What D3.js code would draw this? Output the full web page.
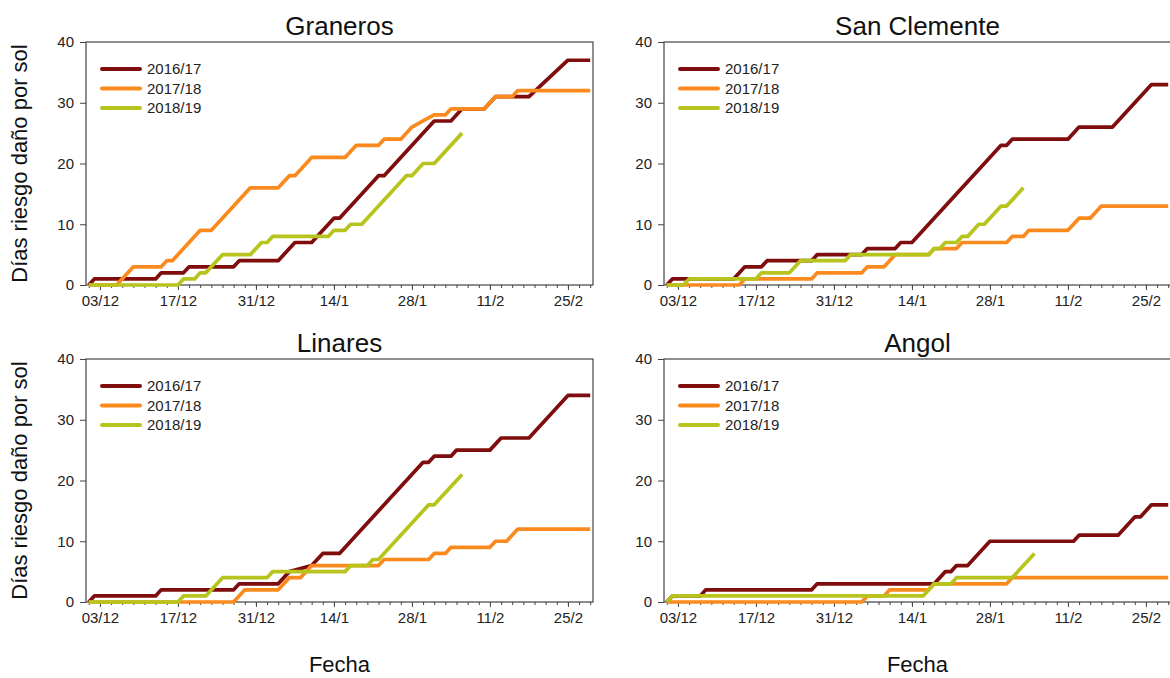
<!DOCTYPE html>
<html>
<head>
<meta charset="utf-8">
<script src="https://cdn.jsdelivr.net/npm/d3@7"></script>
<style>
  body { margin: 0; background: #fff; }
  svg { display: block; font-family: Arial, "Liberation Sans", sans-serif; }
</style>
</head>
<body>
<svg id="mainSvg" width="1170" height="678"></svg>
<script>
// stations and seasons
var stations = ["Graneros", "San Clemente", "Linares", "Angol"];
var seasons = ["2016/17", "2017/18", "2018/19"];
var seasonColors = ["#7f0d0d", "#fb8a1e", "#b7c41d"];

var xTickLabels = ["03/12", "17/12", "31/12", "14/1", "28/1", "11/2", "25/2"];
var yTicks = [0, 10, 20, 30, 40];

// cumulative days at risk, [dd/mm, value] read at the corners of each line
var graneros1617 = [["01/12",0],["02/12",1],["13/12",1],["14/12",2],["18/12",2],["19/12",3],["27/12",3],["28/12",4],["04/01",4],["07/01",7],["10/01",7],["14/01",11],["15/01",11],["22/01",18],["23/01",18],["01/02",27],["04/02",27],["06/02",29],["10/02",29],["12/02",31],["18/02",31],["25/02",37],["01/03",37]];
var graneros1718 = [["01/12",0],["06/12",0],["09/12",3],["14/12",3],["15/12",4],["16/12",4],["21/12",9],["23/12",9],["30/12",16],["04/01",16],["06/01",18],["07/01",18],["10/01",21],["16/01",21],["18/01",23],["22/01",23],["23/01",24],["26/01",24],["28/01",26],["30/01",27],["01/02",28],["03/02",28],["04/02",29],["10/02",29],["12/02",31],["15/02",31],["16/02",32],["01/03",32]];
var graneros1819 = [["01/12",0],["17/12",0],["18/12",1],["20/12",1],["21/12",2],["22/12",2],["25/12",5],["30/12",5],["01/01",7],["02/01",7],["03/01",8],["13/01",8],["14/01",9],["16/01",9],["17/01",10],["19/01",10],["27/01",18],["28/01",18],["30/01",20],["01/02",20],["06/02",25]];

var sanClemente1617 = [["01/12",0],["02/12",1],["13/12",1],["15/12",3],["18/12",3],["19/12",4],["27/12",4],["28/12",5],["05/01",5],["06/01",6],["11/01",6],["12/01",7],["14/01",7],["30/01",23],["31/01",23],["01/02",24],["11/02",24],["13/02",26],["19/02",26],["26/02",33],["01/03",33]];
var sanClemente1718 = [["01/12",0],["14/12",0],["15/12",1],["27/12",1],["28/12",2],["05/01",2],["06/01",3],["09/01",3],["11/01",5],["17/01",5],["18/01",6],["22/01",6],["23/01",7],["31/01",7],["01/02",8],["03/02",8],["04/02",9],["11/02",9],["13/02",11],["15/02",11],["17/02",13],["01/03",13]];
var sanClemente1819 = [["01/12",0],["04/12",0],["05/12",1],["17/12",1],["18/12",2],["23/12",2],["25/12",4],["02/01",4],["03/01",5],["17/01",5],["18/01",6],["19/01",6],["20/01",7],["22/01",7],["23/01",8],["24/01",8],["26/01",10],["27/01",10],["30/01",13],["31/01",13],["03/02",16]];

var linares1617 = [["01/12",0],["02/12",1],["13/12",1],["14/12",2],["27/12",2],["28/12",3],["04/01",3],["06/01",5],["10/01",6],["12/01",8],["15/01",8],["30/01",23],["31/01",23],["01/02",24],["04/02",24],["05/02",25],["11/02",25],["13/02",27],["18/02",27],["25/02",34],["01/03",34]];
var linares1718 = [["01/12",0],["27/12",0],["29/12",2],["04/01",2],["06/01",4],["08/01",4],["10/01",6],["22/01",6],["23/01",7],["31/01",7],["01/02",8],["03/02",8],["04/02",9],["11/02",9],["12/02",10],["14/02",10],["16/02",12],["01/03",12]];
var linares1819 = [["01/12",0],["17/12",0],["18/12",1],["22/12",1],["25/12",4],["02/01",4],["03/01",5],["16/01",5],["17/01",6],["20/01",6],["21/01",7],["22/01",7],["31/01",16],["01/02",16],["06/02",21]];

var angol1617 = [["01/12",0],["02/12",1],["07/12",1],["08/12",2],["27/12",2],["28/12",3],["18/01",3],["20/01",5],["21/01",5],["22/01",6],["24/01",6],["28/01",10],["12/02",10],["13/02",11],["20/02",11],["23/02",14],["24/02",14],["26/02",16],["01/03",16]];
var angol1718 = [["01/12",0],["05/01",0],["06/01",1],["09/01",1],["10/01",2],["17/01",2],["18/01",3],["31/01",3],["01/02",4],["01/03",4]];
var angol1819 = [["01/12",0],["02/12",1],["16/01",1],["18/01",3],["21/01",3],["22/01",4],["01/02",4],["05/02",8]];

var stationSeries = [
    [graneros1617, graneros1718, graneros1819],
    [sanClemente1617, sanClemente1718, sanClemente1819],
    [linares1617, linares1718, linares1819],
    [angol1617, angol1718, angol1819]
];

// layout
var panelW = 507, panelH = 243;
var panelPos = [[86, 42], [664, 42], [86, 359], [664, 359]];

// dd/mm on one season axis (Dec in first year, Jan-Mar in second)
function parseDay(s){
    var p = s.split("/").map(Number);
    var m = p[1];
    return new Date(m == 12 ? 2016 : 2017, m - 1, p[0]);
}

var xMajor = xTickLabels.map(parseDay);
var xMinor = d3.timeDay.range(new Date(2016, 11, 1), new Date(2017, 2, 2), 2);

var svg = d3.select("#mainSvg");

svg.append("rect").attr("width", 1170).attr("height", 678).attr("fill", "#fff");

stations.forEach(function(name, si){
    var px = panelPos[si][0], py = panelPos[si][1];

    var x = d3.scaleTime()
        .domain([new Date(2016, 10, 30, 12), new Date(2017, 2, 1, 12)])
        .range([0, panelW]);
    var y = d3.scaleLinear().domain([0, 40]).range([panelH, 0]);

    var g = svg.append("g")
        .attr("class", "panel")
        .attr("transform", "translate(" + px + "," + py + ")");

    // minor ticks every 2 days
    g.append("g")
        .attr("class", "minorAxis")
        .attr("transform", "translate(0," + panelH + ")")
        .call(d3.axisBottom(x).tickValues(xMinor).tickSize(3).tickFormat(""))
        .call(function(a){ a.select(".domain").remove(); });

    var xAxis = g.append("g")
        .attr("class", "xAxis")
        .attr("transform", "translate(0," + panelH + ")")
        .call(d3.axisBottom(x).tickValues(xMajor).tickSize(5).tickPadding(5)
            .tickFormat(function(d, i){ return xTickLabels[i]; }));
    xAxis.selectAll("text").attr("font-size", "15px").attr("fill", "#222");

    var yAxis = g.append("g")
        .attr("class", "yAxis")
        .call(d3.axisLeft(y).tickValues(yTicks).tickSize(6).tickPadding(6));
    yAxis.selectAll("text").attr("font-size", "15px").attr("fill", "#222");

    g.selectAll(".domain, .tick line").attr("stroke", "#444");
    g.selectAll(".domain").remove();

    // plot frame
    g.append("rect")
        .attr("x", 0).attr("y", 0)
        .attr("width", panelW).attr("height", panelH)
        .attr("fill", "none")
        .attr("stroke", "#444")
        .attr("stroke-width", 1.2);

    var line = d3.line()
        .x(function(d){ return x(parseDay(d[0])); })
        .y(function(d){ return y(d[1]); });

    g.selectAll(".seasonLine")
        .data(stationSeries[si])
        .enter()
        .append("path")
        .attr("class", "seasonLine")
        .attr("d", line)
        .attr("fill", "none")
        .attr("stroke", function(d, i){ return seasonColors[i]; })
        .attr("stroke-width", 3.7)
        .attr("stroke-linejoin", "round");

    // legend
    var leg = g.selectAll(".legendItem")
        .data(seasons)
        .enter()
        .append("g")
        .attr("class", "legendItem")
        .attr("transform", function(d, i){ return "translate(16," + (27 + i * 19.5) + ")"; });

    leg.append("line")
        .attr("x1", 0).attr("x2", 38)
        .attr("stroke", function(d, i){ return seasonColors[i]; })
        .attr("stroke-width", 4)
        .attr("stroke-linecap", "round");

    leg.append("text")
        .attr("x", 45)
        .attr("dy", "0.35em")
        .attr("font-size", "15px")
        .attr("fill", "#222")
        .text(function(d){ return d; });

    // title
    g.append("text")
        .attr("x", panelW / 2)
        .attr("y", -7)
        .attr("text-anchor", "middle")
        .attr("font-size", "26px")
        .attr("fill", "#111")
        .text(name);

    if(si % 2 == 0){
        svg.append("text")
            .attr("transform", "translate(27," + (py + panelH / 2) + ") rotate(-90)")
            .attr("text-anchor", "middle")
            .attr("font-size", "22px")
            .attr("fill", "#111")
            .text("Días riesgo daño por sol");
    }
    if(si >= 2){
        svg.append("text")
            .attr("x", px + panelW / 2)
            .attr("y", 672)
            .attr("text-anchor", "middle")
            .attr("font-size", "22px")
            .attr("fill", "#111")
            .text("Fecha");
    }
});
</script>
</body>
</html>
